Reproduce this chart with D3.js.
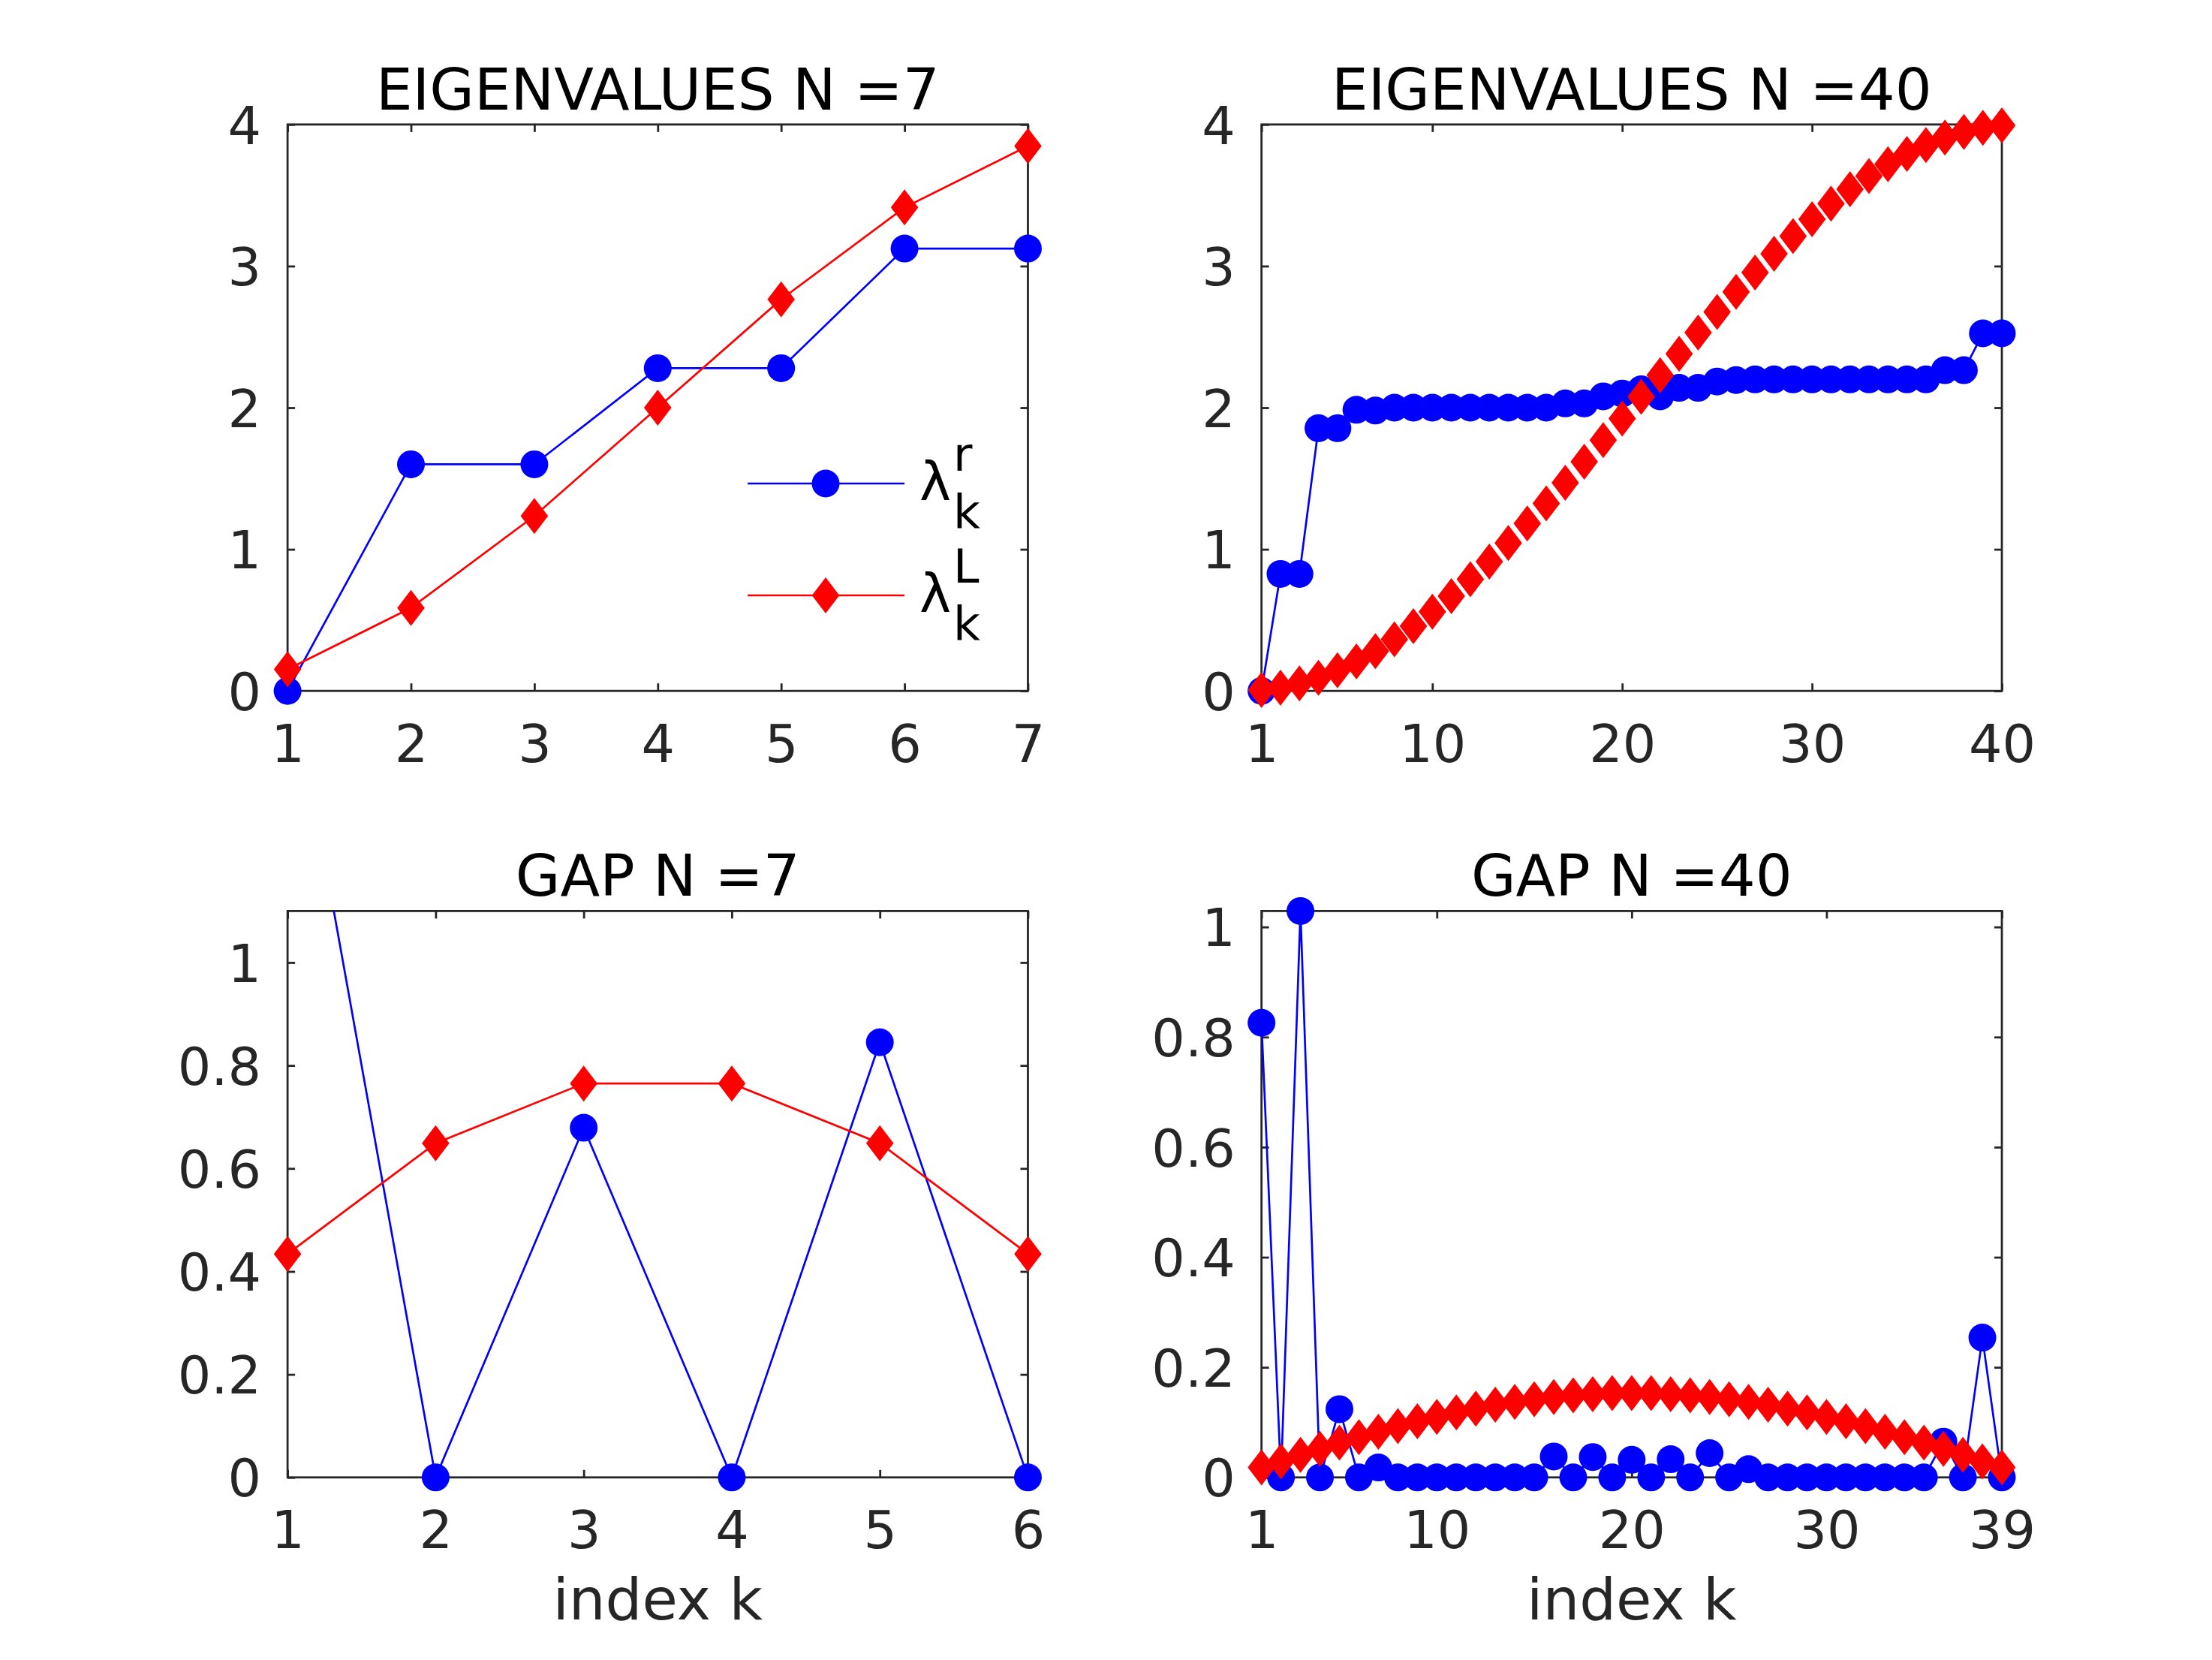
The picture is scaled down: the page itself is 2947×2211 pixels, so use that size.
<!DOCTYPE html>
<html lang="en">
<head>
    <meta charset="UTF-8">
    <title>Eigenvalues and gaps</title>
    <script src="https://cdn.jsdelivr.net/npm/d3@7"></script>
    <style>
        body { margin: 0; background: #fff; }
        svg { display: block; font-family: "DejaVu Sans", sans-serif; }
    </style>
</head>
<body>
<script>
    const W = 2947, H = 2211;

    // --- data ---
    const eigK7 = [1, 2, 3, 4, 5, 6, 7];
    const eigR7 = [0, 1.6, 1.6, 2.279, 2.279, 3.124, 3.124];
    const eigL7 = [0.152, 0.586, 1.235, 2.0, 2.765, 3.414, 3.848];

    const gapK7 = [1, 2, 3, 4, 5, 6];
    const gapR7 = [1.6, 0, 0.679, 0, 0.845, 0];
    const gapL7 = [0.434, 0.649, 0.765, 0.765, 0.649, 0.434];

    const eigK40 = d3.range(1, 41);
    const eigR40 = [0, 0.826, 0.826, 1.855, 1.855, 1.985, 1.98, 2.0, 2.0, 2.0,
                    2.0, 2.0, 2.0, 2.0, 2.0, 2.0, 2.03, 2.03, 2.08, 2.1,
                    2.13, 2.08, 2.14, 2.14, 2.185, 2.195, 2.2, 2.2, 2.2, 2.2,
                    2.2, 2.2, 2.2, 2.2, 2.2, 2.2, 2.265, 2.265, 2.525, 2.525];
    const eigL40 = [0.006, 0.023, 0.053, 0.093, 0.145, 0.208, 0.281, 0.364, 0.457, 0.559,
                    0.669, 0.788, 0.913, 1.045, 1.182, 1.324, 1.470, 1.619, 1.771, 1.923,
                    2.077, 2.229, 2.381, 2.530, 2.676, 2.818, 2.955, 3.087, 3.212, 3.331,
                    3.441, 3.543, 3.636, 3.719, 3.792, 3.855, 3.907, 3.947, 3.977, 3.994];

    const gapK40 = d3.range(1, 40);
    const gapR40 = [0.826, 0, 1.029, 0, 0.124, 0, 0.018, 0, 0, 0,
                    0, 0, 0, 0, 0, 0.038, 0, 0.037, 0, 0.032,
                    0, 0.033, 0, 0.044, 0, 0.015, 0, 0, 0, 0,
                    0, 0, 0, 0, 0, 0.065, 0, 0.254, 0];
    const gapL40 = [0.018, 0.029, 0.041, 0.052, 0.063, 0.073, 0.083, 0.093, 0.102, 0.110,
                    0.118, 0.125, 0.132, 0.137, 0.142, 0.146, 0.149, 0.151, 0.153, 0.153,
                    0.153, 0.151, 0.149, 0.146, 0.142, 0.137, 0.132, 0.125, 0.118, 0.110,
                    0.102, 0.093, 0.083, 0.073, 0.063, 0.052, 0.041, 0.029, 0.018];

    const xTicks7 = [1, 2, 3, 4, 5, 6, 7];
    const xTicks40 = [1, 10, 20, 30, 40];
    const xTicksGap7 = [1, 2, 3, 4, 5, 6];
    const xTicksGap40 = [1, 10, 20, 30, 39];
    const yTicksEig = [0, 1, 2, 3, 4];
    const yTicksGap = [0, 0.2, 0.4, 0.6, 0.8, 1];

    const legendLabels = [["r", "#0000ff", "circle"], ["L", "#ff0000", "diamond"]];

    // --- layout (matlab default subplot positions) ---
    const colLeft = [0.13, 0.5703], rowBottom = [0.5838, 0.11];
    const axW = 0.3347 * W, axH = 0.3412 * H;
    const INK = "#262626", BLUE = "#0000ff", RED = "#ff0000";
    const tickFont = 70, titleFont = 77;

    const panels = [
        {title: "EIGENVALUES N =7", col: 0, row: 0, xd: [1, 7], yd: [0, 4], xt: xTicks7, yt: yTicksEig,
         k: eigK7, r: eigR7, l: eigL7, redLine: true, legend: true},
        {title: "EIGENVALUES N =40", col: 1, row: 0, xd: [1, 40], yd: [0, 4], xt: xTicks40, yt: yTicksEig,
         k: eigK40, r: eigR40, l: eigL40, redLine: false},
        {title: "GAP N =7", col: 0, row: 1, xd: [1, 6], yd: [0, 1.1], xt: xTicksGap7, yt: yTicksGap,
         k: gapK7, r: gapR7, l: gapL7, redLine: true, xlabel: "index k"},
        {title: "GAP N =40", col: 1, row: 1, xd: [1, 39], yd: [0, d3.max(gapR40)], xt: xTicksGap40, yt: yTicksGap,
         k: gapK40, r: gapR40, l: gapL40, redLine: true, xlabel: "index k"}
    ];

    const svg = d3.select("body").append("svg")
        .attr("width", W)
        .attr("height", H);

    const diamond = "M0,-24L18.3,0L0,24L-18.3,0Z";

    panels.forEach((p, i) => {
        const x0 = colLeft[p.col] * W;
        const y0 = H * (1 - rowBottom[p.row]) - axH;
        const x = d3.scaleLinear().domain(p.xd).range([0, axW]);
        const y = d3.scaleLinear().domain(p.yd).range([axH, 0]);

        const g = svg.append("g").attr("transform", `translate(${x0},${y0})`);

        g.append("clipPath").attr("id", "clip" + i)
            .append("rect").attr("width", axW).attr("height", axH);

        // axes, ticks pointing inward on all four sides
        const styleAxis = sel => {
            sel.select(".domain").remove();
            sel.selectAll(".tick line").attr("stroke", INK).attr("stroke-width", 2.8);
            sel.selectAll(".tick text").attr("fill", INK)
                .attr("font-size", tickFont).attr("font-family", "DejaVu Sans");
        };
        g.append("g").attr("transform", `translate(0,${axH})`)
            .call(d3.axisBottom(x).tickValues(p.xt).tickSize(-10).tickPadding(45).tickFormat(d3.format("d")))
            .call(styleAxis);
        g.append("g")
            .call(d3.axisTop(x).tickValues(p.xt).tickSize(-10).tickFormat(""))
            .call(styleAxis);
        g.append("g")
            .call(d3.axisLeft(y).tickValues(p.yt).tickSize(-10).tickPadding(35).tickFormat(d => String(d)))
            .call(styleAxis)
            .selectAll(".tick text").attr("dy", "0.36em");
        g.append("g").attr("transform", `translate(${axW},0)`)
            .call(d3.axisRight(y).tickValues(p.yt).tickSize(-10).tickFormat(""))
            .call(styleAxis);

        g.append("rect")
            .attr("width", axW).attr("height", axH)
            .attr("fill", "none").attr("stroke", INK).attr("stroke-width", 2.8);

        const line = d3.line().x(d => x(d[0])).y(d => y(d[1]));
        const inside = d => d[1] >= p.yd[0] - 1e-9 && d[1] <= p.yd[1] + 1e-9;

        // blue series
        const blue = p.k.map((k, j) => [k, p.r[j]]);
        g.append("path").datum(blue)
            .attr("clip-path", `url(#clip${i})`)
            .attr("d", line)
            .attr("fill", "none").attr("stroke", BLUE).attr("stroke-width", 2.7);
        g.append("g").selectAll("circle")
            .data(blue.filter(inside))
            .join("circle")
            .attr("cx", d => x(d[0])).attr("cy", d => y(d[1]))
            .attr("r", 18.5).attr("fill", BLUE);

        // red series
        const red = p.k.map((k, j) => [k, p.l[j]]);
        if (p.redLine) {
            g.append("path").datum(red)
                .attr("clip-path", `url(#clip${i})`)
                .attr("d", line)
                .attr("fill", "none").attr("stroke", RED).attr("stroke-width", 2.7);
        }
        g.append("g").selectAll("path")
            .data(red.filter(inside))
            .join("path")
            .attr("transform", d => `translate(${x(d[0])},${y(d[1])})`)
            .attr("d", diamond).attr("fill", RED);

        // title
        g.append("text")
            .attr("x", axW / 2).attr("y", -20)
            .attr("text-anchor", "middle")
            .attr("font-size", titleFont).attr("fill", "#000")
            .text(p.title);

        if (p.xlabel) {
            g.append("text")
                .attr("x", axW / 2).attr("y", axH + 189)
                .attr("text-anchor", "middle")
                .attr("font-size", titleFont).attr("fill", INK)
                .text(p.xlabel);
        }

        if (p.legend) {
            const lg = svg.append("g");
            legendLabels.forEach((e, j) => {
                const ly = 644 + j * 149;
                lg.append("line")
                    .attr("x1", 996).attr("x2", 1205).attr("y1", ly).attr("y2", ly)
                    .attr("stroke", e[1]).attr("stroke-width", 2.7);
                if (e[2] === "circle") {
                    lg.append("circle").attr("cx", 1100).attr("cy", ly).attr("r", 18.5).attr("fill", e[1]);
                } else {
                    lg.append("path").attr("transform", `translate(1100,${ly})`)
                        .attr("d", diamond).attr("fill", e[1]);
                }
                lg.append("text").attr("x", 1225).attr("y", ly + 22)
                    .attr("font-size", 71).attr("fill", "#000").text("λ");
                lg.append("text").attr("x", 1270).attr("y", ly - 17)
                    .attr("font-size", 62).attr("fill", "#000").text(e[0]);
                lg.append("text").attr("x", 1270).attr("y", ly + 59)
                    .attr("font-size", 62).attr("fill", "#000").text("k");
            });
        }
    });
</script>
</body>
</html>
